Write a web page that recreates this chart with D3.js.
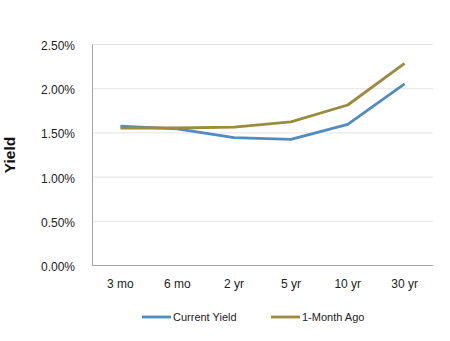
<!DOCTYPE html>
<html><head><meta charset="utf-8">
<script src="https://cdn.jsdelivr.net/npm/d3@7"></script>
<style>body{margin:0;background:#fff}svg{display:block}text{font-family:"Liberation Sans",Arial,sans-serif}</style>
</head><body>
<svg id="c" width="450" height="341"></svg>
<script>
const categories = ["3 mo","6 mo","2 yr","5 yr","10 yr","30 yr"];
const currentYield = [1.57,1.54,1.44,1.42,1.59,2.05];
const monthAgo = [1.55,1.55,1.56,1.62,1.81,2.28];
const yTicks = [0,0.5,1,1.5,2,2.5];
const seriesNames = ["Current Yield","1-Month Ago"];
const colors = ["#4f8cc0","#9c8a3e"];

const svg = d3.select("#c");
const m = {l:92,r:433,t:44,b:265};
const x = d3.scaleBand().domain(categories).range([m.l,m.r]);
const y = d3.scaleLinear().domain([0,2.5]).range([m.b,m.t]);

svg.append("g").selectAll("line").data(yTicks.filter(d=>d>0)).join("line")
  .attr("x1",m.l).attr("x2",m.r).attr("y1",d=>y(d)+0.5).attr("y2",d=>y(d)+0.5)
  .attr("stroke","#e4e4e4").attr("stroke-width",1);

const ya = svg.append("g").attr("transform",`translate(${m.l},0)`)
  .call(d3.axisLeft(y).tickValues(yTicks).tickFormat(d=>d3.format(".2f")(d)+"%").tickSize(0).tickPadding(17));
ya.select(".domain").attr("stroke","#a6a6a6");
ya.selectAll("text").attr("font-size",12).attr("dy","0.45em").attr("fill","#222").style("font-family","Liberation Sans, Arial, sans-serif");

const xa = svg.append("g").attr("transform",`translate(0,${m.b})`)
  .call(d3.axisBottom(x).tickSize(0).tickPadding(14));
xa.select(".domain").attr("stroke","#a6a6a6").attr("d",`M${m.l},0.5H${m.r}`);
xa.selectAll("text").attr("font-size",12).attr("fill","#222").style("font-family","Liberation Sans, Arial, sans-serif");

svg.append("text").attr("transform",`translate(15,155) rotate(-90)`)
  .attr("text-anchor","middle").attr("font-size",15.5).attr("font-weight","bold").attr("fill","#111").text("Yield");

const line = d3.line().x((d,i)=>x(categories[i])+x.bandwidth()/2).y(d=>y(d));
[currentYield,monthAgo].forEach((s,k)=>{
  svg.append("path").datum(s).attr("d",line).attr("fill","none")
    .attr("stroke",colors[k]).attr("stroke-width",2.8).attr("stroke-linejoin","round");
});

const lg = [{x:142},{x:271}];
seriesNames.forEach((n,k)=>{
  svg.append("line").attr("x1",lg[k].x).attr("x2",lg[k].x+29).attr("y1",317).attr("y2",317)
    .attr("stroke",colors[k]).attr("stroke-width",2.8);
  svg.append("text").attr("x",lg[k].x+31).attr("y",321).attr("font-size",11).attr("fill","#222").text(n);
});
</script>
</body></html>
